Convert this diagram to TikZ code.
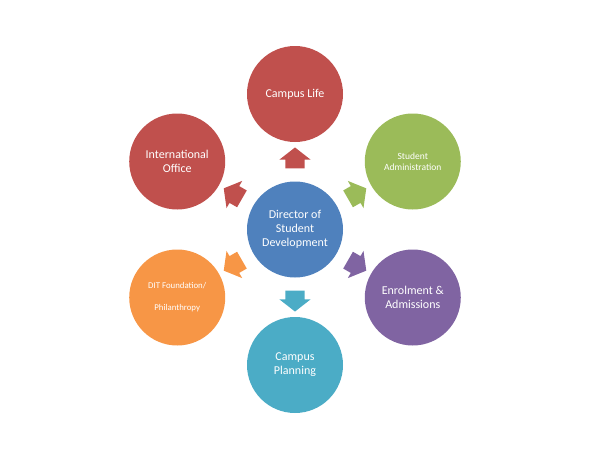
\documentclass[tikz,border=0pt]{standalone}
\usepackage{fontspec}
\setmainfont{Carlito}
\usetikzlibrary{shapes.arrows,calc}

\definecolor{hubblue}{HTML}{4F81BD}
\definecolor{lifered}{HTML}{C0504D}
\definecolor{admingreen}{HTML}{9BBB59}
\definecolor{enrolpurple}{HTML}{8064A2}
\definecolor{planaqua}{HTML}{4BACC6}
\definecolor{ditorange}{HTML}{F79646}

\begin{document}
\begin{tikzpicture}[x=1pt, y=1pt,
  main node/.style={circle, minimum size=96pt, inner sep=2pt, text=white, align=center,
    font=\fontsize{12}{14}\selectfont},
  small node/.style={main node, font=\fontsize{9.5}{11.5}\selectfont},
  pointer/.style={single arrow, minimum height=21pt, minimum width=31pt,
    inner xsep=0pt, inner ysep=9.5pt,
    single arrow head extend=6pt, single arrow tip angle=104}]
\useasboundingbox (0,0) rectangle (600,-450);

\node[main node, fill=hubblue]   (dir) at (295,-229.5) {Director of\\Student\\Development};

\node[main node, fill=lifered]      (life)   at ($(dir)+(90:135.5)$)  {Campus Life};
\node[small node, fill=admingreen]  (admin)  at ($(dir)+(30:136)$)    {Student\\Administration};
\node[main node, fill=enrolpurple]  (enrol)  at ($(dir)+(-30:136)$)   {Enrolment \&\\Admissions};
\node[main node, fill=planaqua]     (plan)   at ($(dir)+(-90:135.5)$) {Campus\\Planning};
\node[small node, fill=ditorange, font=\fontsize{8.8}{22}\selectfont]
                                    (dit)    at ($(dir)+(210:136)$)   {DIT Foundation/\\Philanthropy};
\node[main node, fill=lifered]      (intl)   at ($(dir)+(150:136)$)   {International\\Office};

% arrows out of the director
\node[pointer, fill=lifered,      rotate=90]  (to life)  at ($(dir)!0.5!(life)$)  {};
\node[pointer, fill=admingreen,   rotate=30]  (to admin) at ($(dir)!0.5!(admin)$) {};
\node[pointer, fill=enrolpurple,  rotate=-30] (to enrol) at ($(dir)!0.5!(enrol)$) {};
\node[pointer, fill=planaqua,     rotate=-90] (to plan)  at ($(dir)!0.5!(plan)$)  {};
\node[pointer, fill=ditorange,    rotate=210] (to dit)   at ($(dir)!0.5!(dit)$)   {};
\node[pointer, fill=lifered,      rotate=150] (to intl)  at ($(dir)!0.5!(intl)$)  {};
\end{tikzpicture}
\end{document}
